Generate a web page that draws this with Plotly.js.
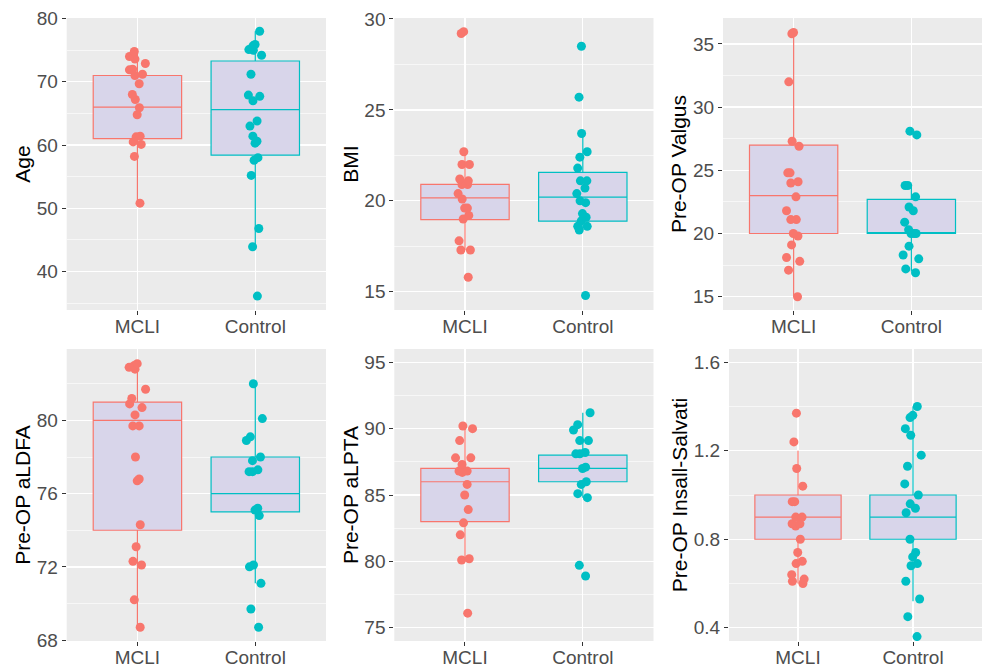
<!DOCTYPE html>
<html>
<head>
<meta charset="utf-8">
<script src="https://cdn.plot.ly/plotly-3.0.1.min.js"></script>
<style>html,body{margin:0;padding:0;background:#fff;}#chart{width:987px;height:669px;}</style>
</head>
<body>
<div id="chart"></div>
<script>
// ---------- data ----------
const groups = ['MCLI', 'Control'];
const yTitles = ['Age', 'BMI', 'Pre-OP Valgus', 'Pre-OP aLDFA', 'Pre-OP aLPTA', 'Pre-OP Insall-Salvati'];

// box stats: [lower whisker, Q1, median, Q3, upper whisker]
const ageBoxMCLI = [50.8, 61.0, 66.0, 71.0, 74.8];
const ageBoxControl = [43.9, 58.4, 65.6, 73.3, 78.0];
const ageMCLI = [74.8, 74.0, 73.6, 72.9, 72.0, 71.9, 71.2, 71.0, 69.7, 68.0, 67.2, 65.9, 64.8, 61.4, 61.3, 60.5, 60.1, 58.2, 50.8];
const ageControl = [78.0, 75.9, 75.7, 75.1, 75.0, 74.2, 71.2, 67.9, 67.7, 67.0, 63.8, 63.0, 61.4, 60.6, 60.3, 58.0, 57.6, 55.2, 46.8, 43.9, 36.1];

const bmiBoxMCLI = [17.3, 18.97, 20.16, 20.91, 22.7];
const bmiBoxControl = [18.4, 18.88, 20.2, 21.57, 23.67];
const bmiMCLI = [29.3, 29.2, 22.7, 22.0, 22.0, 21.2, 21.1, 20.9, 20.9, 20.4, 20.1, 19.6, 19.6, 19.2, 19.0, 17.8, 17.3, 17.3, 15.8];
const bmiControl = [28.5, 25.7, 23.7, 22.7, 22.4, 21.8, 21.1, 21.1, 20.7, 20.4, 20.0, 19.9, 19.3, 19.1, 18.9, 18.6, 18.6, 18.4, 14.8];

const valgusBoxMCLI = [15.0, 20.0, 23.0, 27.0, 36.0];
const valgusBoxControl = [17.0, 20.0, 20.0, 22.7, 23.8];
const valgusMCLI = [35.9, 35.8, 32.0, 27.3, 26.9, 24.8, 24.8, 24.1, 24.0, 22.9, 21.8, 21.1, 21.1, 20.0, 19.8, 19.1, 18.1, 17.8, 17.1, 15.0];
const valgusControl = [28.1, 27.8, 23.8, 23.8, 22.9, 22.1, 21.8, 20.9, 20.3, 20.0, 20.0, 20.0, 19.0, 18.3, 18.0, 17.2, 16.9];

const aldfaBoxMCLI = [68.7, 74.0, 80.0, 81.0, 83.1];
const aldfaBoxControl = [71.1, 75.0, 76.0, 78.0, 82.0];
const aldfaMCLI = [83.1, 83.0, 82.9, 82.8, 81.7, 81.2, 80.9, 80.7, 80.3, 79.7, 79.7, 78.0, 76.8, 76.7, 74.3, 73.1, 72.3, 72.1, 70.2, 68.7];
const aldfaControl = [82.0, 80.1, 79.1, 78.9, 78.0, 77.8, 77.3, 77.2, 77.2, 75.2, 75.1, 74.8, 72.1, 72.0, 71.1, 69.7, 68.7];

const alptaBoxMCLI = [80.1, 83.0, 86.0, 87.0, 90.2];
const alptaBoxControl = [84.8, 86.0, 87.0, 88.0, 91.2];
const alptaMCLI = [90.2, 90.0, 89.1, 87.8, 87.8, 87.3, 86.8, 86.8, 86.7, 85.8, 85.0, 83.9, 82.9, 82.0, 80.2, 80.1, 76.1];
const alptaControl = [91.2, 90.3, 89.9, 89.1, 89.1, 88.2, 88.1, 88.1, 87.1, 87.0, 86.0, 85.8, 85.1, 84.8, 79.7, 78.9];

const isBoxMCLI = [0.60, 0.80, 0.90, 1.00, 1.20];
const isBoxControl = [0.52, 0.80, 0.90, 1.00, 1.40];
const isMCLI = [1.37, 1.24, 1.12, 1.04, 0.97, 0.97, 0.90, 0.90, 0.87, 0.86, 0.87, 0.80, 0.74, 0.70, 0.69, 0.64, 0.62, 0.61, 0.60];
const isControl = [1.40, 1.36, 1.35, 1.30, 1.27, 1.18, 1.13, 1.05, 1.00, 0.96, 0.94, 0.92, 0.80, 0.74, 0.72, 0.69, 0.68, 0.61, 0.53, 0.45, 0.36];

// ---------- styling / layout ----------
const W = 987, H = 669;
const colors = ['#F8766D', '#00BFC4'];
const boxFill = '#D8D5EA';
const panels = [
  {box: [ageBoxMCLI, ageBoxControl], pts: [ageMCLI, ageControl], px: [66.7, 326, 18, 310], yr: [33.9, 80.1], dt: 10, mdt: 5},
  {box: [bmiBoxMCLI, bmiBoxControl], pts: [bmiMCLI, bmiControl], px: [394.3, 653.5, 18, 310], yr: [14.0, 30.05], dt: 5, mdt: 2.5},
  {box: [valgusBoxMCLI, valgusBoxControl], pts: [valgusMCLI, valgusControl], px: [723, 982, 18, 310], yr: [13.95, 37.05], dt: 5, mdt: 2.5},
  {box: [aldfaBoxMCLI, aldfaBoxControl], pts: [aldfaMCLI, aldfaControl], px: [66.7, 326, 349, 641], yr: [67.95, 83.9], dt: 4, mdt: 2},
  {box: [alptaBoxMCLI, alptaBoxControl], pts: [alptaMCLI, alptaControl], px: [394.3, 653.5, 349, 641], yr: [74, 96], dt: 5, mdt: 2.5},
  {box: [isBoxMCLI, isBoxControl], pts: [isMCLI, isControl], px: [729, 982, 349, 641], yr: [0.34, 1.66], dt: 0.4, mdt: 0.2}
];

const traces = [];
const layout = {
  width: W, height: H,
  margin: {l: 0, r: 0, t: 0, b: 0},
  paper_bgcolor: '#ffffff',
  plot_bgcolor: '#EBEBEB',
  showlegend: false,
  boxmode: 'overlay',
  font: {family: 'Liberation Sans, Arial, sans-serif', color: '#4D4D4D'}
};

panels.forEach((p, i) => {
  const n = i + 1;
  const xa = 'x' + (n === 1 ? '' : n), ya = 'y' + (n === 1 ? '' : n);
  // boxes
  groups.forEach((g, k) => {
    const s = p.box[k];
    traces.push({
      type: 'box', xaxis: xa, yaxis: ya, name: g,
      x: [k + 1],
      lowerfence: [s[0]], q1: [s[1]], median: [s[2]], q3: [s[3]], upperfence: [s[4]],
      width: 0.75, whiskerwidth: 0,
      fillcolor: boxFill,
      line: {color: colors[k], width: 1.2},
      boxpoints: false, hoverinfo: 'skip'
    });
  });
  // jittered points (jitter computed by plotly)
  groups.forEach((g, k) => {
    traces.push({
      type: 'box', xaxis: xa, yaxis: ya, name: g,
      x0: k + 1, y: p.pts[k],
      width: 0.75,
      boxpoints: 'all', jitter: 0.22, pointpos: 0,
      fillcolor: 'rgba(0,0,0,0)',
      line: {color: 'rgba(0,0,0,0)', width: 0},
      marker: {color: colors[k], size: 9, opacity: 1, line: {width: 0}},
      hoverinfo: 'skip'
    });
  });
  const [x0, x1, y0, y1] = p.px;
  layout['xaxis' + (n === 1 ? '' : n)] = {
    domain: [x0 / W, x1 / W], anchor: ya,
    range: [0.4, 2.6], tickmode: 'array', tickvals: [1, 2], ticktext: groups,
    showgrid: true, gridcolor: '#FFFFFF', gridwidth: 1.3, zeroline: false,
    ticks: 'outside', ticklen: 4, tickcolor: '#333333', tickwidth: 1,
    ticklabelstandoff: -5,
    tickfont: {size: 19, color: '#4D4D4D'}, showline: false, fixedrange: true
  };
  layout['yaxis' + (n === 1 ? '' : n)] = {
    domain: [1 - y1 / H, 1 - y0 / H], anchor: xa,
    range: p.yr, tick0: 0, dtick: p.dt,
    showgrid: true, gridcolor: '#FFFFFF', gridwidth: 1.3, zeroline: false,
    minor: {dtick: p.mdt, tick0: 0, showgrid: true, gridcolor: '#FFFFFF', gridwidth: 0.6, ticks: ''},
    ticks: 'outside', ticklen: 4, tickcolor: '#333333', tickwidth: 1,
    tickfont: {size: 19, color: '#4D4D4D'}, showline: false, fixedrange: true,
    title: {text: yTitles[i], font: {size: 21, color: '#000000'}, standoff: 0}
  };
});

Plotly.newPlot('chart', traces, layout, {staticPlot: true, displayModeBar: false});
</script>
</body>
</html>
